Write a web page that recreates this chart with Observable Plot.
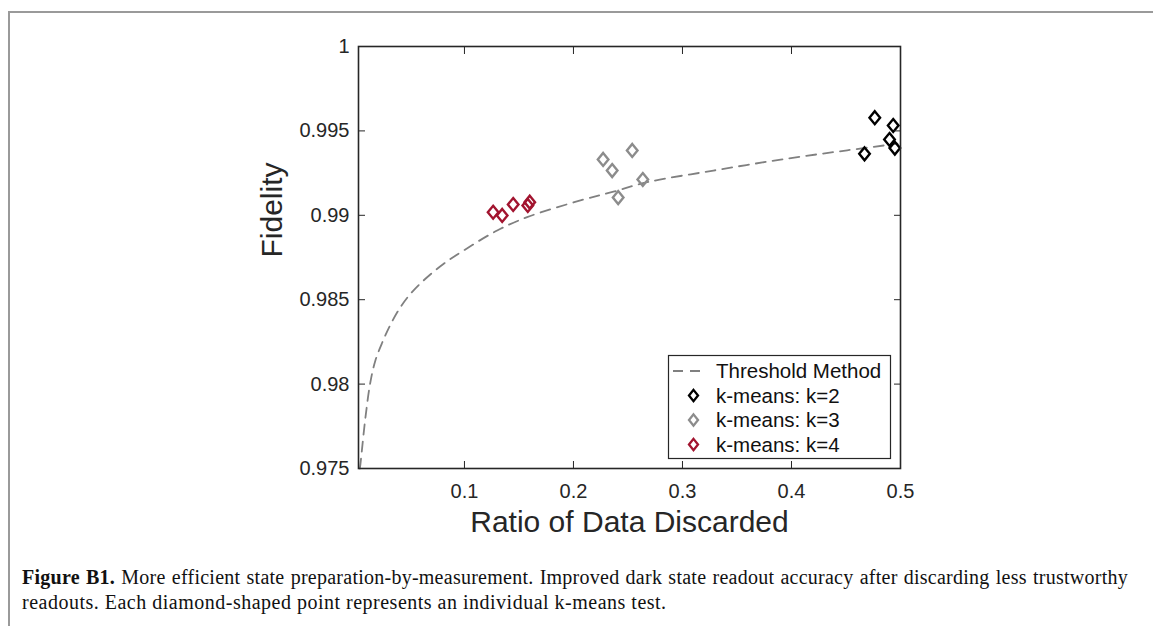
<!DOCTYPE html>
<html>
<head>
<meta charset="utf-8">
<script src="https://cdn.jsdelivr.net/npm/d3@7"></script>
<script src="https://cdn.jsdelivr.net/npm/@observablehq/plot@0.6"></script>
<style>
  html, body { margin: 0; padding: 0; background: #fff; }
  body { width: 1153px; height: 626px; position: relative; overflow: hidden; }
  #frame { position: absolute; left: 8px; top: 11px; width: 1150px; height: 620px;
           border-left: 2px solid #9a9a9a; border-top: 2px solid #9a9a9a; }
  #chart { position: absolute; left: 0; top: 0; }
  #legend { position: absolute; left: 0; top: 0; }
  #caption { position: absolute; left: 22px; top: 565px; width: 1106px;
             font-family: "Liberation Serif", "DejaVu Serif", serif; font-size: 20px;
             letter-spacing: 0.25px; line-height: 25px; color: #111; }
  #caption .l1 { text-align: justify; text-align-last: justify; white-space: nowrap; }
  #caption .l2 { letter-spacing: 0.5px; }
</style>
</head>
<body>
<div id="frame"></div>
<div id="chart"></div>
<svg id="legend" width="1153" height="560"></svg>
<div id="caption">
  <div class="l1"><b>Figure B1.</b> More efficient state preparation-by-measurement. Improved dark state readout accuracy after discarding less trustworthy</div>
  <div class="l2">readouts. Each diamond-shaped point represents an individual k-means test.</div>
</div>
<script>
// ---- data ----
const thresholdX = [0.0040, 0.0046, 0.0092, 0.0138, 0.0183, 0.0245, 0.0321, 0.0413, 0.0505, 0.0642, 0.081, 0.0994, 0.13, 0.1575, 0.2064, 0.2367, 0.2676, 0.3284, 0.39, 0.4511, 0.4972];
const thresholdY = [0.975, 0.97528, 0.97804, 0.98015, 0.98140, 0.98245, 0.98352, 0.98456, 0.98535, 0.98624, 0.98713, 0.98792, 0.9891, 0.98989, 0.99088, 0.99140, 0.99196, 0.99265, 0.99330, 0.99385, 0.99424];

const k2X = [0.4764, 0.4933, 0.4899, 0.4948, 0.4670];
const k2Y = [0.99578, 0.99532, 0.99449, 0.99398, 0.99364];
const k3X = [0.2272, 0.2355, 0.2539, 0.2636, 0.2410];
const k3Y = [0.99331, 0.99265, 0.99384, 0.99212, 0.99105];
const k4X = [0.1263, 0.1346, 0.1447, 0.1581, 0.1599];
const k4Y = [0.99018, 0.98999, 0.99064, 0.99058, 0.99078];

const xTicks = [0.1, 0.2, 0.3, 0.4, 0.5];
const yTicks = [0.975, 0.98, 0.985, 0.99, 0.995, 1];
const yTickLabels = ["0.975", "0.98", "0.985", "0.99", "0.995", "1"];

const seriesNames = ["Threshold Method", "k-means: k=2", "k-means: k=3", "k-means: k=4"];
const seriesColors = ["#808080", "#000000", "#8c8c8c", "#a2142f"];

// ---- build tables ----
const curve = thresholdX.map((x, i) => ({x, y: thresholdY[i]}));
const pts = [];
[[k2X, k2Y, 1], [k3X, k3Y, 2], [k4X, k4Y, 3]].forEach(([xs, ys, s]) =>
  xs.forEach((x, i) => pts.push({x, y: ys[i], color: seriesColors[s]})));

const diamond = {
  draw(ctx, size) {
    const r = Math.sqrt(size / Math.PI);
    const h = r * 1.22, w = r;
    ctx.moveTo(0, -h); ctx.lineTo(w, 0); ctx.lineTo(0, h); ctx.lineTo(-w, 0); ctx.closePath();
  }
};

const axisColor = "#262626";
const font = "'Liberation Sans', Arial, Helvetica, sans-serif";

const chart = Plot.plot({
  width: 1153,
  height: 560,
  marginLeft: 358,
  marginRight: 253,
  marginTop: 46,
  marginBottom: 92,
  style: {fontFamily: font, fontSize: "20px", color: axisColor, background: "transparent"},
  x: {domain: [0.0028, 0.5]},
  y: {domain: [0.975, 1]},
  marks: [
    Plot.line(curve, {x: "x", y: "y", stroke: seriesColors[0], strokeWidth: 1.8, strokeDasharray: "10,7", curve: "catmull-rom"}),
    Plot.dot(pts, {x: "x", y: "y", stroke: "color", symbol: diamond, r: 5.3, strokeWidth: 2.4, fill: "none"}),
    Plot.axisX({ticks: xTicks, tickSize: -7, tickPadding: 22, tickFormat: d => String(d), label: null, stroke: axisColor, fill: axisColor, strokeWidth: 1}),
    Plot.axisX({ticks: xTicks, anchor: "top", tickSize: -7, tickFormat: () => "", label: null, stroke: axisColor, strokeWidth: 1}),
    Plot.axisY({ticks: yTicks, tickSize: -7, tickPadding: 16, tickFormat: d => yTickLabels[yTicks.indexOf(d)] ?? String(d), label: null, stroke: axisColor, fill: axisColor, strokeWidth: 1}),
    Plot.axisY({ticks: yTicks, anchor: "right", tickSize: -7, tickFormat: () => "", label: null, stroke: axisColor, strokeWidth: 1}),
    Plot.frame({stroke: axisColor, strokeWidth: 1.6}),
    Plot.text(["Ratio of Data Discarded"], {frameAnchor: "bottom", dy: 63, fontSize: 30, fill: axisColor}),
    Plot.text(["Fidelity"], {frameAnchor: "left", dx: -86, rotate: -90, fontSize: 30, fill: axisColor})
  ]
});
document.getElementById("chart").appendChild(chart);

// ---- legend ----
const lg = d3.select("#legend").append("g").attr("font-family", font).attr("font-size", 20.5).attr("fill", "#111");
lg.append("rect").attr("x", 668.5).attr("y", 355.5).attr("width", 222).attr("height", 103)
  .attr("fill", "#fff").attr("stroke", axisColor).attr("stroke-width", 1.2);
const rowY = [371, 395.5, 420, 444.5];
seriesNames.forEach((name, i) => {
  const y = rowY[i];
  if (i === 0) {
    lg.append("line").attr("x1", 673).attr("x2", 707).attr("y1", y).attr("y2", y)
      .attr("stroke", seriesColors[0]).attr("stroke-width", 1.8).attr("stroke-dasharray", "10,7");
  } else {
    lg.append("path").attr("d", `M693.5,${y - 5.6}L698,${y}L693.5,${y + 5.6}L689,${y}Z`)
      .attr("fill", "none").attr("stroke", seriesColors[i]).attr("stroke-width", 2.3);
  }
  lg.append("text").attr("x", 716).attr("y", y).attr("dy", "0.36em").text(name);
});
</script>
</body>
</html>
